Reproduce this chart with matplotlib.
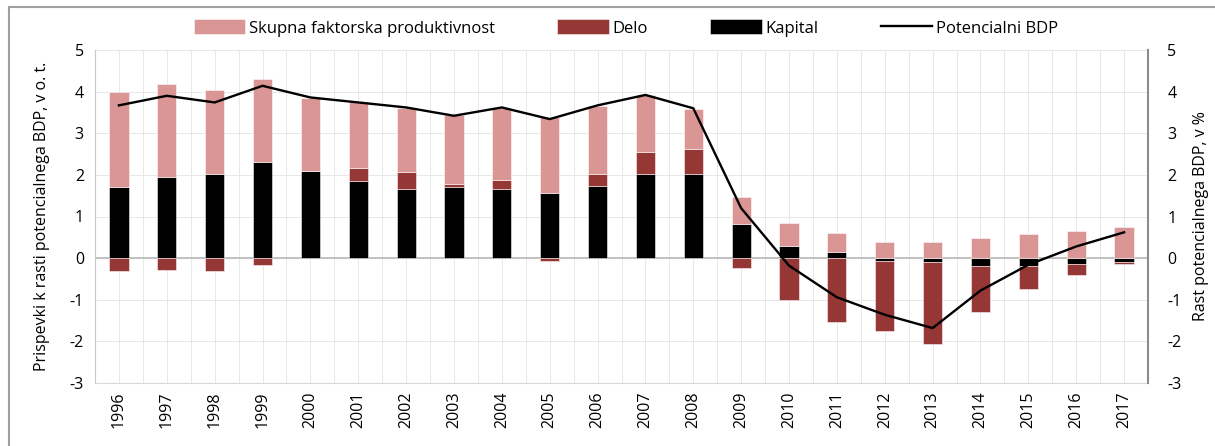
import matplotlib
matplotlib.use("Agg")
import matplotlib.pyplot as plt
import numpy as np

years = [str(y) for y in range(1996, 2018)]
kapital = [1.70, 1.96, 2.02, 2.32, 2.10, 1.86, 1.65, 1.72, 1.67, 1.57, 1.74, 2.01, 2.02,
           0.83, 0.30, 0.14, -0.06, -0.10, -0.18, -0.18, -0.14, -0.10]
delo = [-0.32, -0.29, -0.31, -0.17, 0.00, 0.30, 0.41, 0.06, 0.21, -0.06, 0.27, 0.54, 0.61,
        -0.24, -1.01, -1.54, -1.68, -1.97, -1.12, -0.56, -0.27, -0.03]
tfp = [2.30, 2.22, 2.03, 1.98, 1.74, 1.58, 1.55, 1.65, 1.72, 1.81, 1.65, 1.37, 0.96,
       0.64, 0.54, 0.46, 0.39, 0.39, 0.48, 0.58, 0.66, 0.74]
potencialni = [3.67, 3.90, 3.74, 4.14, 3.86, 3.74, 3.62, 3.42, 3.62, 3.34, 3.67, 3.92, 3.60,
               1.20, -0.18, -0.94, -1.36, -1.68, -0.78, -0.16, 0.28, 0.62]

C_TFP = "#da9694"
C_DELO = "#953735"
C_KAP = "#000000"

plt.rcParams['font.family'] = ['Open Sans', 'DejaVu Sans']
plt.rcParams['axes.unicode_minus'] = False

fig = plt.figure(figsize=(12.15, 4.46), dpi=100)
ax = fig.add_axes([95/1215, 1 - 383/446, (1148-95)/1215, (383-50)/446])

x = np.arange(len(years))
k = np.array(kapital); d = np.array(delo); t = np.array(tfp)

pos_base = np.zeros(len(x)); neg_base = np.zeros(len(x))
handles = {}
w = 0.4
for name, vals, col in [("Kapital", k, C_KAP), ("Delo", d, C_DELO), ("Skupna faktorska produktivnost", t, C_TFP)]:
    base = np.where(vals >= 0, pos_base, neg_base)
    b = ax.bar(x, vals, w, bottom=base, color=col, edgecolor=(1, 1, 1, 0.6), linewidth=0.6, zorder=3)
    handles[name] = b
    pos_base = pos_base + np.where(vals >= 0, vals, 0)
    neg_base = neg_base + np.where(vals < 0, vals, 0)

ax.set_xlim(-0.5, len(x) - 0.5)
ax.set_ylim(-3, 5)
ax.set_yticks(range(-3, 6))
ax.set_xticks(x)
ax.set_xticklabels(years, rotation=90, fontsize=11.5)
ax.tick_params(axis='both', length=0, labelsize=11.5, pad=8)
ax.tick_params(axis='x', pad=6)

ax.set_xticks(np.arange(-0.5, len(x), 1.0), minor=True)
ax.grid(True, which='major', axis='both', color='#e8e8e8', linewidth=0.7, zorder=0)
ax.grid(True, which='minor', axis='x', color='#e8e8e8', linewidth=0.7, zorder=0)
ax.tick_params(which='minor', length=0)
ax.axhline(0, color='#b8b8b8', linewidth=1.2, zorder=2)

ax.spines['top'].set_visible(False)
ax.spines['left'].set_color('#c8c8c8')
ax.spines['bottom'].set_color('#d8d8d8')
ax.spines['right'].set_visible(False)

ax.set_ylabel("Prispevki k rasti potencialnega BDP, v o. t.", fontsize=11.5, labelpad=14)

ax2 = ax.twinx()
ax2.set_ylim(-3, 5)
ax2.set_yticks(range(-3, 6))
ax2.tick_params(axis='y', length=0, labelsize=11.5, pad=14)
line, = ax2.plot(x, potencialni, color='black', linewidth=1.7, zorder=5)
ax2.spines['right'].set_color('#8c8c8c')
ax2.spines['right'].set_linewidth(1.5)
for s in ['top', 'left', 'bottom']:
    ax2.spines[s].set_visible(False)
ax2.set_ylabel("Rast potencialnega BDP, v %", fontsize=11.5, labelpad=8)

leg = fig.legend([handles["Skupna faktorska produktivnost"], handles["Delo"], handles["Kapital"], line],
                 ["Skupna faktorska produktivnost", "Delo", "Kapital", "Potencialni BDP"],
                 loc='center', bbox_to_anchor=(626/1215, 1 - 28/446), ncol=4, frameon=False,
                 prop={'size': 12},
                 handlelength=3.1, handleheight=1.0, handletextpad=0.25, columnspacing=3.7)

fig.add_artist(plt.Line2D([9/1215, 9/1215], [0, 1 - 7/446], transform=fig.transFigure, color='#a0a0a0', linewidth=1.5))
fig.add_artist(plt.Line2D([9/1215, 1], [1 - 7/446, 1 - 7/446], transform=fig.transFigure, color='#a0a0a0', linewidth=1.5))

fig.savefig("out.png", dpi=100)
